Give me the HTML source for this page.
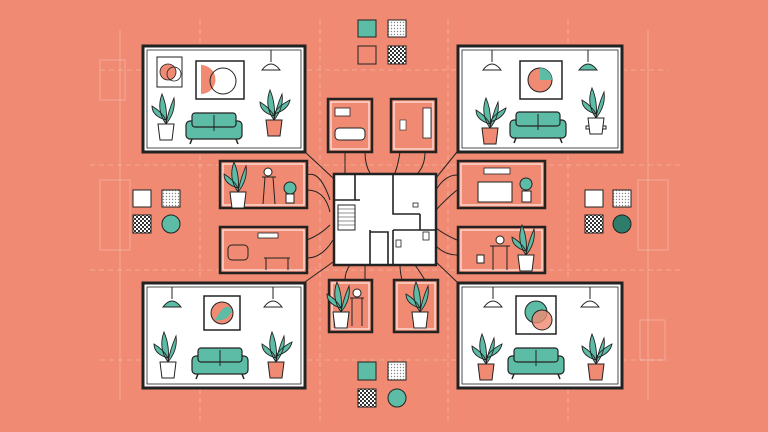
<!DOCTYPE html>
<html><head><meta charset="utf-8"><style>html,body{margin:0;padding:0;background:#F08A72}svg{display:block}</style></head>
<body>
<svg width="768" height="432" viewBox="0 0 768 432" xmlns="http://www.w3.org/2000/svg">
<defs>
<pattern id="dots" width="3" height="3" patternUnits="userSpaceOnUse"><rect width="3" height="3" fill="#fff"/><circle cx="1.5" cy="1.5" r="0.7" fill="#888"/></pattern>
<pattern id="chk" width="4" height="4" patternUnits="userSpaceOnUse"><rect width="4" height="4" fill="#fff"/><rect width="2" height="2" fill="#333"/><rect x="2" y="2" width="2" height="2" fill="#333"/></pattern>
<g id="sofa"><rect x="0" y="8" width="56" height="18" rx="4" fill="#5DBCA6" stroke="#222" stroke-width="1.2"/><rect x="6" y="0" width="44" height="14" rx="3" fill="#5DBCA6" stroke="#222" stroke-width="1.2"/><line x1="28" y1="2" x2="28" y2="18" stroke="#222"/><line x1="6" y1="26" x2="4" y2="31" stroke="#222" stroke-width="1.5"/><line x1="50" y1="26" x2="52" y2="31" stroke="#222" stroke-width="1.5"/></g>
<g id="lamp"><line x1="0" y1="0" x2="0" y2="12" stroke="#222"/><path d="M-9 20 Q0 8 9 20 Z" fill="#fff" stroke="#222"/></g>
<g id="lampg"><line x1="0" y1="0" x2="0" y2="12" stroke="#222"/><path d="M-9 20 Q0 8 9 20 Z" fill="#5DBCA6" stroke="#222"/></g>
<g id="plant"><path d="M0 0 Q-10 -14 -4 -30 Q2 -16 0 0 M0 0 Q10 -12 8 -26 Q2 -12 0 0 M0 -4 Q-14 -8 -14 -18 Q-4 -12 0 -4" fill="#5DBCA6" stroke="#222" stroke-width="0.9"/><path d="M-8 0 L8 0 L6 16 L-6 16 Z" fill="#fff" stroke="#222"/></g>
<g id="plantc"><path d="M0 0 Q-10 -14 -4 -30 Q2 -16 0 0 M0 0 Q10 -12 8 -26 Q2 -12 0 0 M0 -4 Q-14 -8 -14 -18 Q-4 -12 0 -4 M0 -6 Q14 -10 16 -20 Q4 -14 0 -6" fill="#5DBCA6" stroke="#222" stroke-width="0.9"/><path d="M-8 0 L8 0 L6 16 L-6 16 Z" fill="#F08A72" stroke="#222"/></g>
</defs>
<!-- grid -->
<g stroke="#fff" stroke-opacity="0.35" stroke-width="0.8" fill="none">
<line x1="100" y1="70" x2="668" y2="70" stroke-dasharray="5 4"/><line x1="100" y1="360" x2="668" y2="360" stroke-dasharray="5 4"/>
<line x1="120" y1="30" x2="120" y2="400"/><line x1="648" y1="30" x2="648" y2="400"/>
<line x1="90" y1="165" x2="680" y2="165" stroke-dasharray="5 4"/><line x1="90" y1="270" x2="680" y2="270" stroke-dasharray="5 4"/>
<rect x="100" y="180" width="30" height="70"/><rect x="638" y="180" width="30" height="70"/>
<rect x="100" y="60" width="25" height="40"/><rect x="640" y="320" width="25" height="40"/>
<line x1="200" y1="20" x2="200" y2="420" stroke-dasharray="5 4"/><line x1="568" y1="20" x2="568" y2="420" stroke-dasharray="5 4"/>
<line x1="320" y1="20" x2="320" y2="420" stroke-dasharray="5 4"/><line x1="448" y1="20" x2="448" y2="420" stroke-dasharray="5 4"/>
</g>
<!-- connectors -->
<g stroke="#222" stroke-width="1" fill="none">
<path d="M305 152 L333 178"/><path d="M457 152 L436 178"/><path d="M305 282 L333 262"/><path d="M457 282 L436 262"/>
<path d="M307 175 Q320 170 330 200"/><path d="M307 190 Q325 190 330 212"/><path d="M307 240 Q320 235 330 225"/><path d="M307 258 Q322 258 333 240"/>
<path d="M457 175 Q445 175 436 190"/><path d="M457 190 Q445 200 436 210"/><path d="M457 240 Q445 235 436 228"/><path d="M457 255 Q445 255 436 246"/>
<path d="M345 152 L345 173"/><path d="M365 152 Q365 165 370 173"/><path d="M400 152 Q398 165 395 173"/><path d="M425 152 Q425 165 418 173"/>
<path d="M345 280 Q345 272 350 265"/><path d="M365 280 L365 265"/><path d="M402 280 Q400 272 400 265"/><path d="M425 280 Q420 272 415 265"/>
</g>
<!-- big rooms -->
<g fill="#fff" stroke="#222" stroke-width="3">
<rect x="143" y="46" width="162" height="106"/><rect x="458" y="46" width="164" height="106"/>
<rect x="143" y="283" width="162" height="105"/><rect x="458" y="283" width="164" height="105"/>
</g>
<g fill="none" stroke="#222" stroke-width="0.8"><rect x="147" y="50" width="154" height="98"/><rect x="462" y="50" width="156" height="98"/><rect x="147" y="287" width="154" height="97"/><rect x="462" y="287" width="156" height="97"/></g>
<!-- TL content -->
<rect x="157" y="57" width="25" height="30" fill="#fff" stroke="#222"/><circle cx="168" cy="72" r="8" fill="#F08A72" stroke="#222" stroke-width="0.8"/><circle cx="174" cy="74" r="7" fill="none" stroke="#222" stroke-width="0.8"/>
<rect x="196" y="61" width="48" height="38" fill="#fff" stroke="#222" stroke-width="1.5"/><path d="M201 65 A12 12 0 0 1 201 94" fill="#F08A72"/><circle cx="223" cy="81" r="13" fill="none" stroke="#222"/>
<use href="#lamp" x="271" y="50"/><use href="#sofa" x="186" y="113"/><use href="#plant" x="166" y="124"/><use href="#plantc" x="274" y="120"/>
<!-- TR -->
<use href="#lamp" x="492" y="50"/><use href="#lampg" x="588" y="50"/>
<rect x="520" y="61" width="42" height="38" fill="#fff" stroke="#222" stroke-width="1.5"/><circle cx="540" cy="80" r="12" fill="#F08A72" stroke="#222"/><path d="M540 68 A12 12 0 0 1 552 80 L540 80Z" fill="#5DBCA6"/>
<use href="#plantc" x="490" y="128"/><use href="#sofa" x="510" y="112"/><rect x="586" y="126" width="20" height="3" fill="#fff" stroke="#222"/><use href="#plant" x="596" y="118" transform="translate(0,0)"/>
<!-- BL -->
<use href="#lampg" x="172" y="287"/><use href="#lamp" x="273" y="287"/>
<rect x="204" y="296" width="36" height="34" fill="#fff" stroke="#222" stroke-width="1.5"/><circle cx="222" cy="313" r="11" fill="#F08A72" stroke="#222"/><path d="M215 320 Q226 300 232 310 Q228 322 215 320Z" fill="#5DBCA6"/>
<use href="#plant" x="168" y="362"/><use href="#sofa" x="192" y="348"/><use href="#plantc" x="276" y="362"/>
<!-- BR -->
<use href="#lamp" x="493" y="287"/><use href="#lamp" x="590" y="287"/>
<rect x="516" y="296" width="40" height="38" fill="#fff" stroke="#222" stroke-width="1.5"/><circle cx="536" cy="312" r="11" fill="#5DBCA6" stroke="#222"/><circle cx="542" cy="320" r="10" fill="#F08A72" fill-opacity="0.8" stroke="#222"/>
<use href="#plantc" x="486" y="364" transform=""/><use href="#sofa" x="508" y="348"/><use href="#plantc" x="596" y="364"/>
<!-- small rooms -->
<g fill="#F08A72" stroke="#222" stroke-width="2.5">
<rect x="328" y="99" width="44" height="53"/><rect x="391" y="99" width="45" height="53"/>
<rect x="220" y="161" width="87" height="47"/><rect x="220" y="227" width="87" height="46"/>
<rect x="458" y="161" width="87" height="47"/><rect x="458" y="227" width="87" height="46"/>
<rect x="329" y="280" width="43" height="52"/><rect x="394" y="280" width="44" height="52"/>
</g>
<g fill="none" stroke="#fff" stroke-width="1"><rect x="331" y="102" width="38" height="47"/><rect x="394" y="102" width="39" height="47"/><rect x="223" y="164" width="81" height="41"/><rect x="223" y="230" width="81" height="40"/><rect x="461" y="164" width="81" height="41"/><rect x="461" y="230" width="81" height="40"/><rect x="332" y="283" width="37" height="46"/><rect x="397" y="283" width="38" height="46"/></g>
<rect x="335" y="108" width="15" height="8" fill="#fff" stroke="#222" stroke-width="0.8"/><rect x="335" y="128" width="30" height="12" rx="4" fill="#fff" stroke="#222"/>
<rect x="423" y="108" width="8" height="30" fill="#fff" stroke="#222" stroke-width="0.8"/><rect x="400" y="120" width="6" height="10" fill="#fff" stroke="#222" stroke-width="0.6"/>
<use href="#plant" x="238" y="192" transform=""/><circle cx="268" cy="172" r="4" fill="#fff" stroke="#222"/><line x1="262" y1="177" x2="276" y2="177" stroke="#222"/><line x1="265" y1="177" x2="263" y2="204" stroke="#222"/><line x1="273" y1="177" x2="275" y2="204" stroke="#222"/><circle cx="290" cy="188" r="6" fill="#5DBCA6" stroke="#222"/><rect x="286" y="194" width="8" height="9" fill="#fff" stroke="#222"/>
<rect x="228" y="245" width="20" height="15" rx="4" fill="#F08A72" stroke="#222"/><rect x="258" y="233" width="20" height="5" fill="#fff" stroke="#222" stroke-width="0.8"/><line x1="264" y1="258" x2="290" y2="258" stroke="#222"/><line x1="266" y1="258" x2="266" y2="270" stroke="#222"/><line x1="288" y1="258" x2="288" y2="270" stroke="#222"/>
<rect x="484" y="168" width="26" height="6" fill="#fff" stroke="#222" stroke-width="0.8"/><rect x="478" y="182" width="34" height="20" fill="#fff" stroke="#222"/><circle cx="526" cy="184" r="6" fill="#5DBCA6" stroke="#222"/><rect x="522" y="191" width="9" height="11" fill="#fff" stroke="#222"/>
<circle cx="500" cy="240" r="4" fill="#fff" stroke="#222"/><line x1="490" y1="246" x2="510" y2="246" stroke="#222"/><line x1="493" y1="246" x2="493" y2="270" stroke="#222"/><line x1="507" y1="246" x2="507" y2="270" stroke="#222"/><use href="#plant" x="526" y="255"/><rect x="477" y="255" width="7" height="8" fill="#fff" stroke="#222"/>
<circle cx="357" cy="293" r="4" fill="#fff" stroke="#222"/><line x1="350" y1="298" x2="364" y2="298" stroke="#222"/><line x1="352" y1="298" x2="352" y2="326" stroke="#222"/><line x1="362" y1="298" x2="362" y2="326" stroke="#222"/><use href="#plant" x="341" y="312"/>
<use href="#plant" x="420" y="312"/>
<!-- center plan -->
<rect x="334" y="174" width="102" height="91" fill="#fff" stroke="#222" stroke-width="2.5"/>
<g stroke="#222" stroke-width="1.6" fill="none">
<path d="M355 174 V200 M334 200 H360 M393 174 V214 H420 M420 214 V230 M393 230 H436 M370 230 V265 M393 230 V265 M370 232 H388 V265"/>
<path d="M338 205 H355 V230 H338 Z" stroke-width="1"/>
</g>
<g stroke="#222" stroke-width="0.6"><line x1="338" y1="209" x2="355" y2="209"/><line x1="338" y1="213" x2="355" y2="213"/><line x1="338" y1="217" x2="355" y2="217"/><line x1="338" y1="221" x2="355" y2="221"/><line x1="338" y1="225" x2="355" y2="225"/></g>
<rect x="413" y="203" width="5" height="4" fill="#fff" stroke="#222" stroke-width="0.8"/><rect x="396" y="240" width="5" height="7" fill="#fff" stroke="#222" stroke-width="0.8"/><rect x="423" y="232" width="6" height="8" fill="#fff" stroke="#222" stroke-width="0.8"/>
<!-- swatches -->
<g stroke="#222" stroke-width="1">
<rect x="358" y="20" width="18" height="17" fill="#5DBCA6"/><rect x="388" y="20" width="18" height="17" fill="url(#dots)"/><rect x="358" y="46" width="18" height="18" fill="#F08A72"/><rect x="388" y="46" width="18" height="18" fill="url(#chk)"/>
<rect x="133" y="190" width="18" height="17" fill="#fff"/><rect x="162" y="190" width="18" height="17" fill="url(#dots)"/><rect x="133" y="215" width="18" height="18" fill="url(#chk)"/><circle cx="171" cy="224" r="9" fill="#5DBCA6"/>
<rect x="585" y="190" width="18" height="17" fill="#fff"/><rect x="613" y="190" width="18" height="17" fill="url(#dots)"/><rect x="585" y="215" width="18" height="18" fill="url(#chk)"/><circle cx="622" cy="224" r="9" fill="#2E7D6B"/>
<rect x="358" y="362" width="18" height="18" fill="#5DBCA6"/><rect x="388" y="362" width="18" height="18" fill="url(#dots)"/><rect x="358" y="389" width="18" height="18" fill="url(#chk)"/><circle cx="397" cy="398" r="9" fill="#5DBCA6"/>
</g>
</svg>
</body></html>
